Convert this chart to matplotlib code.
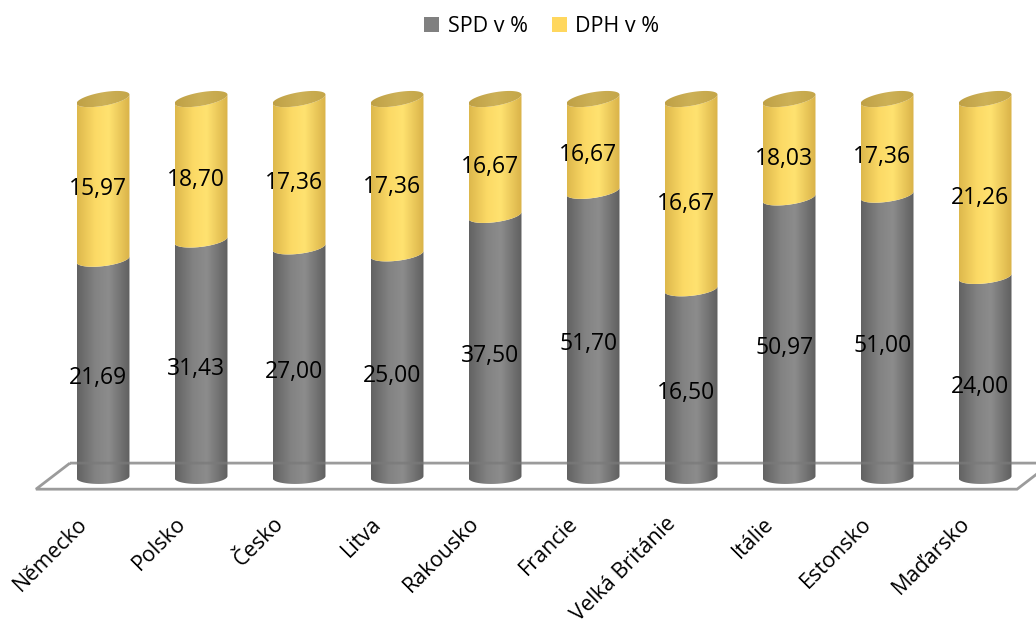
import numpy as np
import matplotlib.pyplot as plt
from matplotlib.path import Path
from matplotlib.patches import PathPatch, Patch, Polygon
from matplotlib.colors import LinearSegmentedColormap

countries = ["Německo", "Polsko", "Česko", "Litva", "Rakousko", "Francie",
             "Velká Británie", "Itálie", "Estonsko", "Maďarsko"]
spd = [21.69, 31.43, 27.00, 25.00, 37.50, 51.70, 16.50, 50.97, 51.00, 24.00]
dph = [15.97, 18.70, 17.36, 17.36, 16.67, 16.67, 16.67, 18.03, 17.36, 21.26]

plt.rcParams["font.family"] = ["Open Sans", "DejaVu Sans"]

grey_cmap = LinearSegmentedColormap.from_list(
    "grey_cyl", [(0, "#626262"), (0.35, "#838383"), (0.6, "#8c8c8c"), (1, "#5f5f5f")])
yellow_cmap = LinearSegmentedColormap.from_list(
    "yellow_cyl", [(0, "#ddb84c"), (0.35, "#fcda66"), (0.6, "#ffe270"), (1, "#d9b248")])
cap_cmap = LinearSegmentedColormap.from_list(
    "cap", [(0, "#bfa045"), (0.5, "#cdb157"), (1, "#c4a649")])

fig = plt.figure(figsize=(10.36, 6.23), dpi=100)
ax = fig.add_axes([0, 0, 1, 1])

half_w = 0.27    # cylinder radius in category units
cap_b = 0.018    # vertical semi-axis of the ellipses
t_front = np.linspace(np.pi, 2 * np.pi, 60)
t_full = np.linspace(0, 2 * np.pi, 120)


def ellipse(cx, level, t):
    # slight perspective tilt, growing towards the top of the chart
    tilt = 0.0026 + 0.009 * level
    x = cx + half_w * np.cos(t)
    y = level + cap_b * np.sin(t) + tilt * np.cos(t)
    return np.column_stack([x, y])


def shade(cx, lo, hi, verts, cmap):
    patch = PathPatch(Path(verts, closed=True), facecolor="none", edgecolor="none")
    ax.add_patch(patch)
    grad = np.linspace(0, 1, 256).reshape(1, -1)
    im = ax.imshow(grad, cmap=cmap, aspect="auto", interpolation="bilinear",
                   extent=(cx - half_w, cx + half_w, lo - 0.04, hi + 0.04), zorder=2)
    im.set_clip_path(patch)


def segment(cx, lo, hi, cmap):
    bottom = ellipse(cx, lo, t_front)
    top = ellipse(cx, hi, t_front)[::-1]
    verts = np.vstack([bottom, top, bottom[:1]])
    shade(cx, lo, hi, verts, cmap)


def fmt(v):
    return f"{v:.2f}".replace(".", ",")


n = len(countries)
for i, (s, d) in enumerate(zip(spd, dph)):
    frac = s / (s + d)
    segment(i, 0.0, frac, grey_cmap)
    segment(i, frac, 1.0, yellow_cmap)
    cap = ellipse(i, 1.0, t_full)
    shade(i, 1.0 - cap_b - 0.02, 1.0 + cap_b + 0.02, cap, cap_cmap)

    ax.text(i - 0.05, frac / 2 - 0.027, fmt(s), ha="center", va="center",
            fontsize=16.5, color="black", zorder=6)
    ax.text(i - 0.05, (frac + 1) / 2 - 0.027, fmt(d), ha="center", va="center",
            fontsize=16.5, color="black", zorder=6)
    ax.text(i - 0.19, -0.115, countries[i], ha="right", va="center",
            rotation=45, rotation_mode="anchor", fontsize=15.5, zorder=6)

# floor of the 3D plot
floor = Polygon([(-0.337, 0.037), (n - 1 + 0.673, 0.037),
                 (n - 1 + 0.327, -0.032), (-0.684, -0.032)],
                closed=True, fill=False, edgecolor="#7a7a7a", alpha=0.75,
                lw=2, zorder=5)
ax.add_patch(floor)

ax.set_xlim(-1.051, 9.52)
ax.set_ylim(-0.386, 1.262)
ax.axis("off")

handles = [Patch(facecolor="#808080", label="SPD v %"),
           Patch(facecolor="#ffd75e", label="DPH v %")]
fig.legend(handles=handles, loc="center", bbox_to_anchor=(0.523, 0.958),
           ncol=2, frameon=False, fontsize=15.5, handlelength=0.7,
           handleheight=0.7, handletextpad=0.4, columnspacing=1.1)

fig.savefig("out.png", dpi=100)
